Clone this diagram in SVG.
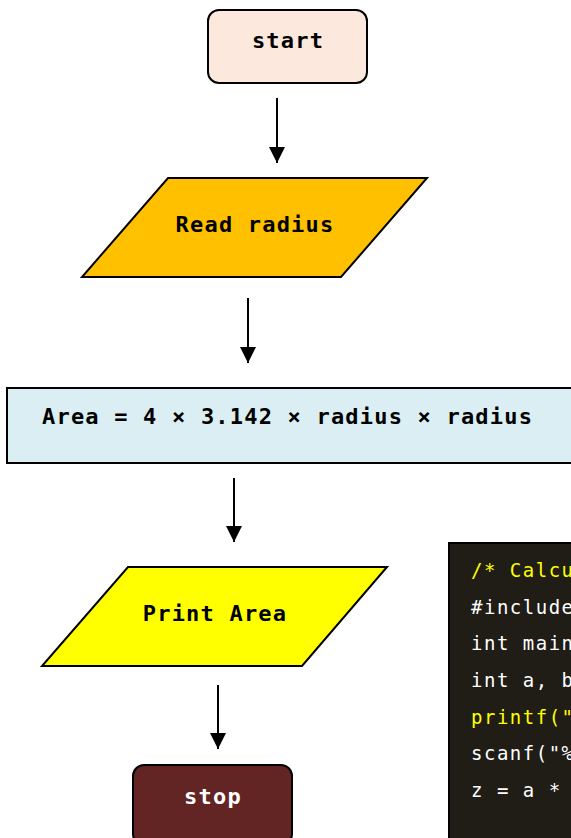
<svg xmlns="http://www.w3.org/2000/svg" width="571" height="838" viewBox="0 0 571 838">
<style>
.lbl{font-family:"DejaVu Sans Mono","Liberation Mono",monospace;font-weight:bold;font-size:22px;letter-spacing:1.2px;text-anchor:middle}
.code{font-family:"DejaVu Sans Mono","Liberation Mono",monospace;font-size:19px;letter-spacing:1.5px;fill:#ffffff}
.y{fill:#ffff00}
.shape{stroke:#000;stroke-width:2}
.conn{stroke:#000;stroke-width:2;fill:none}
</style>
<defs>
<marker id="arr" markerWidth="16" markerHeight="16" refX="16" refY="8" orient="auto" markerUnits="userSpaceOnUse" viewBox="0 0 16 16">
<path d="M0,0 L16,8 L0,16 Z" fill="#000"/>
</marker>
</defs>
<rect width="571" height="838" fill="#fff"/>
<g id="connectors">
<line class="conn" x1="277" y1="98" x2="277" y2="163" marker-end="url(#arr)"/>
<line class="conn" x1="248" y1="298" x2="248" y2="363" marker-end="url(#arr)"/>
<line class="conn" x1="234" y1="478" x2="234" y2="542" marker-end="url(#arr)"/>
<line class="conn" x1="218" y1="685" x2="218" y2="749" marker-end="url(#arr)"/>
</g>
<g id="start">
<rect class="shape" x="208" y="10" width="159" height="73" rx="11" fill="#fce8dc"/>
<text class="lbl" x="288" y="48">start</text>
</g>
<g id="read">
<polygon class="shape" points="168,178 427,178 341,277 82,277" fill="#ffc000"/>
<text class="lbl" x="255" y="232">Read radius</text>
</g>
<g id="area">
<rect class="shape" x="7" y="388" width="570" height="75" fill="#daeef3"/>
<text class="lbl" x="42" y="424" style="text-anchor:start">Area = 4 × 3.142 × radius × radius</text>
</g>
<g id="print">
<polygon class="shape" points="128,567 387,567 302,666 42,666" fill="#ffff00"/>
<text class="lbl" x="215" y="621">Print Area</text>
</g>
<g id="stop">
<rect class="shape" x="133" y="765" width="159" height="80" rx="11" fill="#632523"/>
<text class="lbl" x="213" y="804" fill="#ffffff">stop</text>
</g>
<g id="code">
<rect x="449" y="543" width="130" height="300" fill="#1f1d16" stroke="#000" stroke-width="2"/>
<text class="code y" x="471" y="577">/* Calcu</text>
<text class="code" x="471" y="614">#include</text>
<text class="code" x="471" y="650">int main</text>
<text class="code" x="471" y="687">int a, b</text>
<text class="code y" x="471" y="724">printf("</text>
<text class="code" x="471" y="760">scanf("%</text>
<text class="code" x="471" y="797">z = a *</text>
</g>
</svg>
